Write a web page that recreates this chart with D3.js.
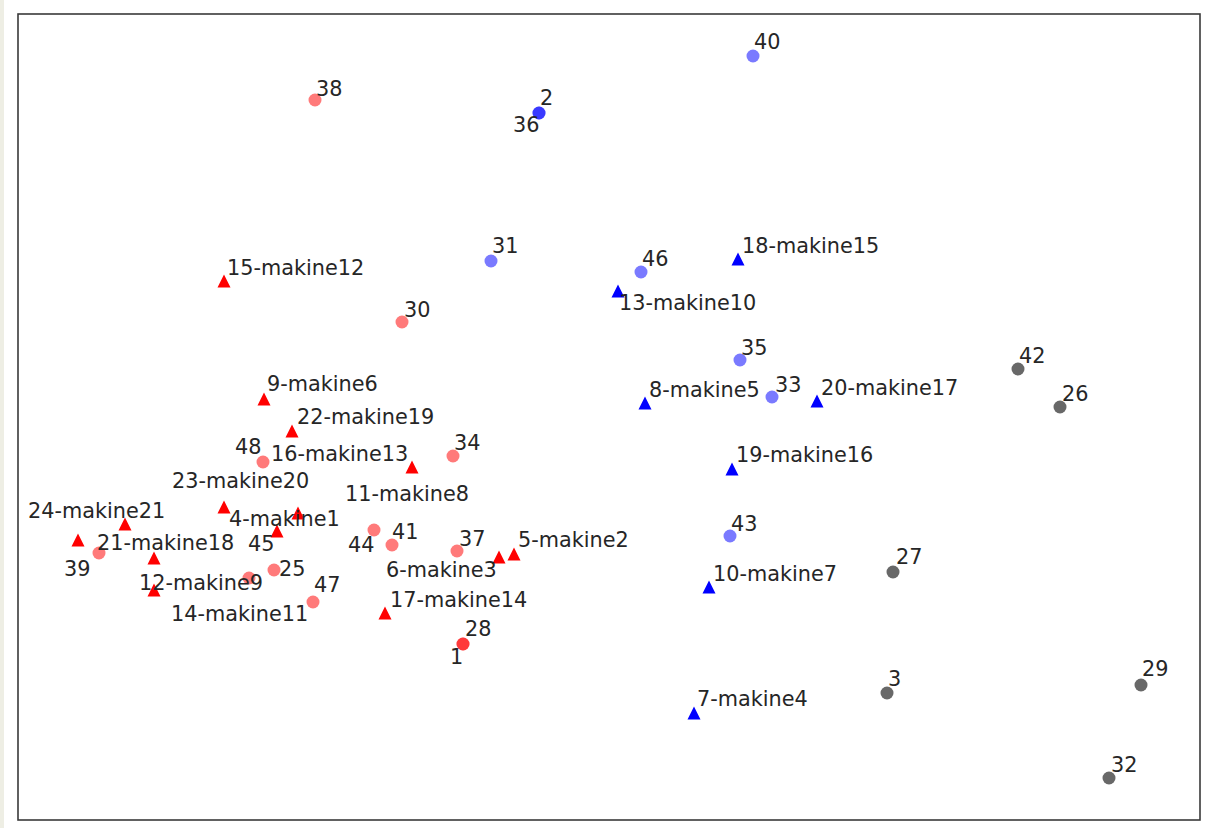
<!DOCTYPE html>
<html>
<head>
<meta charset="utf-8">
<script src="https://cdn.jsdelivr.net/npm/d3@7"></script>
<style>
  html, body { margin: 0; padding: 0; background: #ffffff; }
  svg { display: block; }
  text { font-family: "DejaVu Sans", sans-serif; }
</style>
</head>
<body>
<svg id="chart" width="1205" height="828"></svg>
<script>
// ---- data (arbitrary 2-D embedding coordinates) ----
const redCircleLabels = ["38", "30", "48", "34", "44", "41", "37", "39", "25", "45", "47", "28", "1"];
const redCircleX = [-2.94, -2.07, -3.46, -1.56, -2.35, -2.17, -1.52, -5.10, -3.35, -3.60, -2.96, -1.46, -1.46];
const redCircleY = [3.17, 0.95, -0.45, -0.39, -1.13, -1.28, -1.34, -1.36, -1.53, -1.61, -1.85, -2.27, -2.27];

const redTriLabels = ["15-makine12", "9-makine6", "22-makine19", "11-makine8", "23-makine20", "16-makine13", "4-makine1",
  "24-makine21", "21-makine18", "12-makine9", "14-makine11", "17-makine14", "6-makine3", "5-makine2"];
const redTriX = [-3.85, -3.45, -3.17, -1.97, -3.85, -3.11, -3.32, -5.31, -4.84, -4.55, -4.55, -2.24, -1.10, -0.95];
const redTriY = [1.36, 0.18, -0.14, -0.50, -0.90, -0.96, -1.14, -1.23, -1.07, -1.41, -1.73, -1.96, -1.40, -1.37];

const blueCircleLabels = ["2", "36", "40", "31", "46", "35", "33", "43"];
const blueCircleX = [-0.70, -0.70, 1.44, -1.18, 0.32, 1.31, 1.63, 1.21];
const blueCircleY = [3.04, 3.04, 3.61, 1.56, 1.45, 0.57, 0.20, -1.19];

const blueTriLabels = ["18-makine15", "13-makine10", "8-makine5", "20-makine17", "19-makine16", "10-makine7", "7-makine4"];
const blueTriX = [1.29, 0.09, 0.36, 2.08, 1.23, 1.00, 0.85];
const blueTriY = [1.58, 1.26, 0.14, 0.16, -0.52, -1.70, -2.96];

const grayCircleLabels = ["42", "26", "27", "3", "29", "32"];
const grayCircleX = [4.09, 4.51, 2.84, 2.78, 5.32, 5.00];
const grayCircleY = [0.48, 0.10, -1.55, -2.76, -2.68, -3.61];

// ---- layout config: label placement relative to its marker (pixels) ----
const labelOffset = {
  "38": [2, -3], "30": [3, -4], "48": [-27, -7], "34": [2, -5], "44": [-25, 23], "41": [1, -5],
  "37": [3, -4], "39": [-34, 24], "25": [6, 7], "45": [0, -26], "47": [2, -9], "28": [3, -7], "1": [-12, 21],
  "15-makine12": [4, -5], "9-makine6": [4, -7], "22-makine19": [6, -6], "11-makine8": [-66, 35],
  "23-makine20": [-51, -18], "16-makine13": [-26, -51], "4-makine1": [-47, -4], "24-makine21": [-49, -21],
  "21-makine18": [-27, 27], "12-makine9": [-14, 33], "14-makine11": [18, 32], "17-makine14": [6, -5],
  "6-makine3": [-112, 21], "5-makine2": [5, -6],
  "2": [2, -7], "36": [-25, 20], "40": [2, -6], "31": [2, -7], "46": [2, -5], "35": [2, -4], "33": [4, -4], "43": [2, -4],
  "18-makine15": [5, -5], "13-makine10": [2, 20], "8-makine5": [5, -5], "20-makine17": [5, -5],
  "19-makine16": [5, -6], "10-makine7": [5, -5], "7-makine4": [4, -6],
  "42": [2, -5], "26": [3, -5], "27": [4, -7], "3": [2, -6], "29": [2, -8], "32": [3, -5]
};

// ---- build series table ----
function rows(labels, xs, ys) { return labels.map((l, i) => ({ label: l, x: xs[i], y: ys[i] })); }
const series = [
  { shape: "circle", fill: "#ff0000", opacity: 0.52, pts: rows(redCircleLabels, redCircleX, redCircleY) },
  { shape: "triangle", fill: "#ff0000", opacity: 1, pts: rows(redTriLabels, redTriX, redTriY) },
  { shape: "circle", fill: "#0000ff", opacity: 0.52, pts: rows(blueCircleLabels, blueCircleX, blueCircleY) },
  { shape: "triangle", fill: "#0000ff", opacity: 1, pts: rows(blueTriLabels, blueTriX, blueTriY) },
  { shape: "circle", fill: "#686868", opacity: 1, pts: rows(grayCircleLabels, grayCircleX, grayCircleY) }
];

const svg = d3.select("#chart");
const frame = { left: 18, top: 14, right: 1200, bottom: 820 };

// notebook-style left strip
svg.append("rect").attr("x", 0).attr("y", 0).attr("width", 4).attr("height", 828).attr("fill", "#eeeee4");

const x = d3.scaleLinear().domain([-5.91, 5.91]).range([frame.left, frame.right]);
const y = d3.scaleLinear().domain([-4.03, 4.03]).range([frame.bottom, frame.top]);

const g = svg.append("g");
const tri = 6.5;
series.forEach(s => {
  const sel = g.selectAll(null).data(s.pts).enter();
  if (s.shape === "circle") {
    sel.append("circle")
      .attr("cx", d => x(d.x)).attr("cy", d => y(d.y)).attr("r", 6.5)
      .attr("fill", s.fill).attr("fill-opacity", s.opacity);
  } else {
    sel.append("path")
      .attr("d", d => {
        const cx = x(d.x), cy = y(d.y);
        return `M${cx},${cy - tri}L${cx + tri},${cy + tri}L${cx - tri},${cy + tri}Z`;
      })
      .attr("fill", s.fill).attr("fill-opacity", s.opacity);
  }
});

// labels
const allPts = series.flatMap(s => s.pts);
svg.append("g").selectAll("text").data(allPts).enter().append("text")
  .attr("x", d => x(d.x) + (labelOffset[d.label] || [2, -5])[0] - 1)
  .attr("y", d => y(d.y) + (labelOffset[d.label] || [2, -5])[1] - 1)
  .attr("font-size", 20.8)
  .attr("fill", "#262626")
  .text(d => d.label);

// axes frame (no ticks)
svg.append("rect")
  .attr("x", frame.left).attr("y", frame.top)
  .attr("width", frame.right - frame.left).attr("height", frame.bottom - frame.top)
  .attr("fill", "none").attr("stroke", "#3a3a3a").attr("stroke-width", 1.6);
</script>
</body>
</html>
